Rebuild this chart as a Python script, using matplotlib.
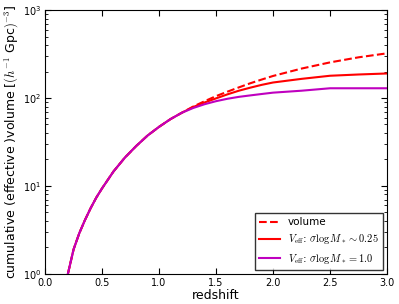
import matplotlib
matplotlib.use('Agg')
import matplotlib.pyplot as plt

FONT_SIZE = 8
plt.rcParams.update({'font.size': FONT_SIZE, 'mathtext.fontset': 'cm'})

# redshift grid and cumulative volumes
z_low = [0.2, 0.25, 0.3, 0.35, 0.4, 0.45, 0.5, 0.6, 0.7, 0.8, 0.9, 1.0,
         1.1, 1.2]
vol_low = [1.0, 1.9, 2.9, 4.1, 5.6, 7.4, 9.4, 14.6, 21.0, 28.5, 37.5, 47.0,
           57.5, 68.0]

z_high = [1.3, 1.4, 1.5, 1.6, 1.7, 1.8, 1.9, 2.0, 2.25, 2.5, 2.75, 3.0]
volume_high = [80, 92, 105, 118, 132, 147, 162, 178, 216, 254, 290, 322]
sig025_high = [79, 89, 99, 110, 121, 131, 141, 150, 165, 179, 185, 190]
sig10_high = [77, 85, 92, 98, 103, 107, 111, 115, 121, 129, 129, 129]

redshift = z_low + z_high
volume = vol_low + volume_high
veff_025 = vol_low + sig025_high
veff_10 = vol_low + sig10_high

fig = plt.figure(figsize=(3.99, 3.04), dpi=100)
ax = fig.add_axes([0.113, 0.099, 0.857, 0.868])

ax.plot(redshift, volume, color='r', linestyle='--', lw=1.5, label='volume')
ax.plot(redshift, veff_025, color='r', lw=1.5,
        label=r'$V_{\rm eff}$: $\sigma \log M_* \sim 0.25$')
ax.plot(redshift, veff_10, color='m', lw=1.5,
        label=r'$V_{\rm eff}$: $\sigma \log M_* = 1.0$')

ax.set_yscale('log')
ax.set_xlim(0, 3.0)
ax.set_ylim(1, 1000)
ax.set_xlabel('redshift', fontsize=9, labelpad=1)
ax.set_ylabel(r'cumulative (effective )volume [$(h^{-1}$ Gpc$)^{-3}$]',
              fontsize=9, labelpad=2)
ax.tick_params(which='both', direction='in', top=True, right=True,
               labelsize=7, pad=3)
ax.tick_params(which='major', length=4)
ax.tick_params(which='minor', length=2)

ax.legend(loc='lower right', fontsize=7.5, fancybox=False, edgecolor='k',
          handlelength=2.0, borderaxespad=0.4)

plt.savefig('out.png', dpi=100)
